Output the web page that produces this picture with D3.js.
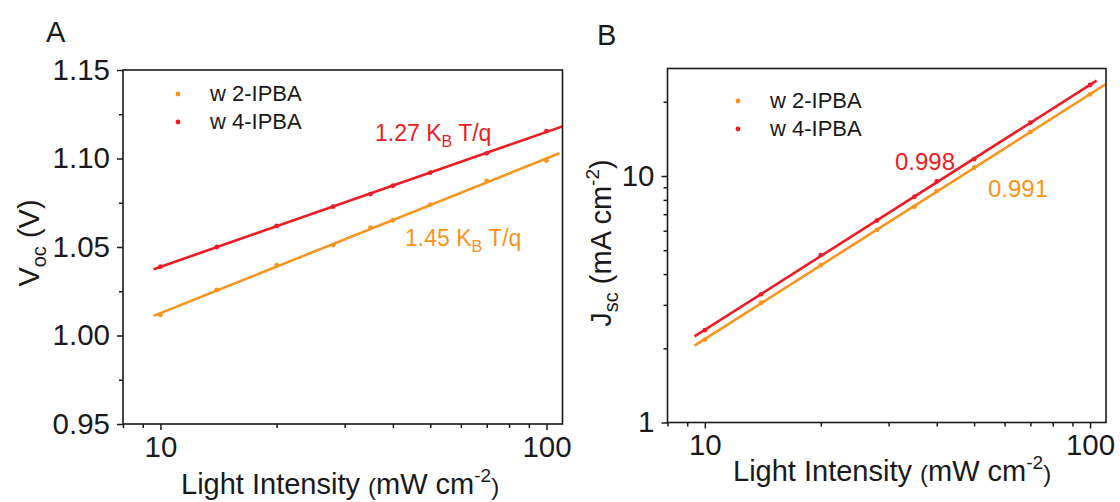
<!DOCTYPE html>
<html>
<head>
<meta charset="utf-8">
<script src="https://cdn.jsdelivr.net/npm/d3@7"></script>
<style>
  html, body { margin: 0; padding: 0; background: #fff; }
  svg { display: block; }
  text { font-family: "Liberation Sans", Arial, Helvetica, sans-serif; }
</style>
</head>
<body>
<svg id="chart" width="1120" height="502"></svg>
<script>
// ---------------- data ----------------
const intensity = [10, 14, 20, 28, 35, 40, 50, 70, 100];
const seriesNames = ["w 2-IPBA", "w 4-IPBA"];
const vocIPBA2 = [1.0116, 1.0257, 1.0398, 1.0511, 1.0609, 1.0651, 1.0739, 1.0873, 1.0988];
const vocIPBA4 = [1.0389, 1.0500, 1.0619, 1.0728, 1.0799, 1.0846, 1.0920, 1.1029, 1.1155];
const jscIPBA2 = [2.17, 3.06, 4.35, 6.05, 7.51, 8.69, 10.8, 15.1, 21.45];
const jscIPBA4 = [2.37, 3.31, 4.78, 6.60, 8.24, 9.50, 11.7, 16.45, 23.4];
const fitRangeA = [[9.6, 108], [9.6, 110]];
const fitRangeB = [[9.4, 110], [9.4, 104]];
const xDomain = [8, 110];
const xMajor = [10, 100];
const xMinor = [8, 9, 20, 30, 40, 50, 60, 70, 80, 90];
const vocDomain = [0.95, 1.15];
const vocMajor = [0.95, 1.00, 1.05, 1.10, 1.15];
const vocMinor = [0.975, 1.025, 1.075, 1.125];
const jscDomain = [1, 27.3];
const jscMajor = [1, 10];
const jscMinor = [2, 3, 4, 5, 6, 7, 8, 9, 20];
const annotA = ["1.45", "1.27"];
const annotB = ["0.991", "0.998"];

const colors = ["#f7941d", "#ec1c24"];
const ink = "#1a1a1a";

const svg = d3.select("#chart");

function fitLinear(xs, ys) {
  const n = xs.length;
  const mx = d3.mean(xs), my = d3.mean(ys);
  let sxy = 0, sxx = 0;
  for (let i = 0; i < n; i++) { sxy += (xs[i]-mx)*(ys[i]-my); sxx += (xs[i]-mx)**2; }
  const b = sxy / sxx;
  return { a: my - b*mx, b };
}

function drawPanel(opt) {
  const { left, right, top, bottom, yScaleType, yDomain, yMajor, yMinor, yFmt, series, fitRanges, logY } = opt;
  const g = svg.append("g");
  const x = d3.scaleLog().domain(xDomain).range([left, right]);
  const y = (yScaleType === "log" ? d3.scaleLog() : d3.scaleLinear()).domain(yDomain).range([bottom, top]);

  series.forEach((vals, i) => {
    const lx = intensity.map(v => Math.log10(v));
    const ly = logY ? vals.map(v => Math.log10(v)) : vals;
    const f = fitLinear(lx, ly);
    const pts = fitRanges[i].map(xv => {
      const yy = f.a + f.b * Math.log10(xv);
      return [xv, logY ? Math.pow(10, yy) : yy];
    });
    g.append("path")
      .attr("d", d3.line().x(d => x(d[0])).y(d => y(d[1]))(pts))
      .attr("stroke", colors[i]).attr("stroke-width", 2.6).attr("fill", "none");
    g.selectAll(null).data(vals).enter().append("circle")
      .attr("cx", (d, k) => x(intensity[k])).attr("cy", d => y(d))
      .attr("r", 2.4).attr("fill", colors[i]);
  });

  g.append("rect").attr("x", left).attr("y", top)
    .attr("width", right-left).attr("height", bottom-top)
    .attr("fill", "none").attr("stroke", ink).attr("stroke-width", 1.6);

  const xa = g.append("g").attr("transform", `translate(0,${bottom})`);
  xa.call(d3.axisBottom(x).tickValues(xMajor).tickSize(6).tickPadding(6).tickFormat(d3.format("d")));
  xa.call(s => s.select(".domain").remove());
  const xm = g.append("g").attr("transform", `translate(0,${bottom})`);
  xm.call(d3.axisBottom(x).tickValues(xMinor).tickSize(4).tickFormat(""));
  xm.call(s => s.select(".domain").remove());

  const ya = g.append("g").attr("transform", `translate(${left},0)`);
  ya.call(d3.axisLeft(y).tickValues(yMajor).tickSize(6).tickPadding(7).tickFormat(yFmt));
  ya.call(s => s.select(".domain").remove());
  const ym = g.append("g").attr("transform", `translate(${left},0)`);
  ym.call(d3.axisLeft(y).tickValues(yMinor).tickSize(4).tickFormat(""));
  ym.call(s => s.select(".domain").remove());

  [xa, xm, ya, ym].forEach(a => {
    a.selectAll("line").attr("stroke", ink).attr("stroke-width", 1.5);
    a.selectAll("text").attr("fill", ink).attr("font-size", 29.5)
      .attr("font-family", '"Liberation Sans", Arial, sans-serif');
  });
  xa.selectAll("text").attr("dy", "0.71em");
  return { g, x, y };
}

const A = drawPanel({
  left: 123, right: 562.5, top: 70, bottom: 424,
  yScaleType: "linear", yDomain: vocDomain, yMajor: vocMajor, yMinor: vocMinor,
  yFmt: d3.format(".2f"), series: [vocIPBA2, vocIPBA4], fitRanges: fitRangeA, logY: false
});
const B = drawPanel({
  left: 667.5, right: 1106, top: 68.5, bottom: 422.5,
  yScaleType: "log", yDomain: jscDomain, yMajor: jscMajor, yMinor: jscMinor,
  yFmt: d3.format("d"), series: [jscIPBA2, jscIPBA4], fitRanges: fitRangeB, logY: true
});

svg.append("text").attr("x", 46).attr("y", 42).attr("font-size", 29).attr("fill", ink).text("A");
svg.append("text").attr("x", 597).attr("y", 45).attr("font-size", 29).attr("fill", ink).text("B");

function xTitle(xpos, ypos) {
  const t = svg.append("text").attr("x", xpos).attr("y", ypos).attr("font-size", 29).attr("fill", ink);
  t.append("tspan").text("Light Intensity ");
  t.append("tspan").attr("font-size", 24).attr("dy", 1).text("(");
  t.append("tspan").attr("font-size", 29).attr("dy", -1).text("mW cm");
  t.append("tspan").attr("font-size", 19).attr("dy", -12).text("-2");
  t.append("tspan").attr("font-size", 24).attr("dy", 13).text(")");
}
xTitle(181, 494);
xTitle(733, 481);

const yA = svg.append("text").attr("transform", "translate(39,243) rotate(-90)")
  .attr("text-anchor", "middle").attr("font-size", 29).attr("fill", ink);
yA.append("tspan").text("V");
yA.append("tspan").attr("font-size", 20).attr("dy", 7).text("oc");
yA.append("tspan").attr("dy", -7).text(" (V)");

const yB = svg.append("text").attr("transform", "translate(611,243) rotate(-90)")
  .attr("text-anchor", "middle").attr("font-size", 29).attr("fill", ink);
yB.append("tspan").text("J");
yB.append("tspan").attr("font-size", 20).attr("dy", 7).text("sc");
yB.append("tspan").attr("dy", -7).text(" (mA cm");
yB.append("tspan").attr("font-size", 19).attr("dy", -12).text("-2");
yB.append("tspan").attr("dy", 12).text(")");

function legend(dotX, textX, y0) {
  seriesNames.forEach((name, i) => {
    const yy = y0 + i * 28;
    svg.append("circle").attr("cx", dotX).attr("cy", yy - 7).attr("r", 2.4).attr("fill", colors[i]);
    svg.append("text").attr("x", textX).attr("y", yy).attr("font-size", 22).attr("fill", ink).text(name);
  });
}
legend(178, 210, 101);
legend(738, 770, 108);

function kbText(xpos, ypos, val, color) {
  const t = svg.append("text").attr("x", xpos).attr("y", ypos).attr("font-size", 23).attr("fill", color);
  t.append("tspan").text(val + " K");
  t.append("tspan").attr("font-size", 16).attr("dy", 6).text("B");
  t.append("tspan").attr("dy", -6).text(" T/q");
}
kbText(375, 141, annotA[1], colors[1]);
kbText(405, 246, annotA[0], colors[0]);

svg.append("text").attr("x", 895).attr("y", 170).attr("font-size", 24).attr("fill", colors[1]).text(annotB[1]);
svg.append("text").attr("x", 988).attr("y", 197).attr("font-size", 24).attr("fill", colors[0]).text(annotB[0]);
</script>
</body>
</html>
